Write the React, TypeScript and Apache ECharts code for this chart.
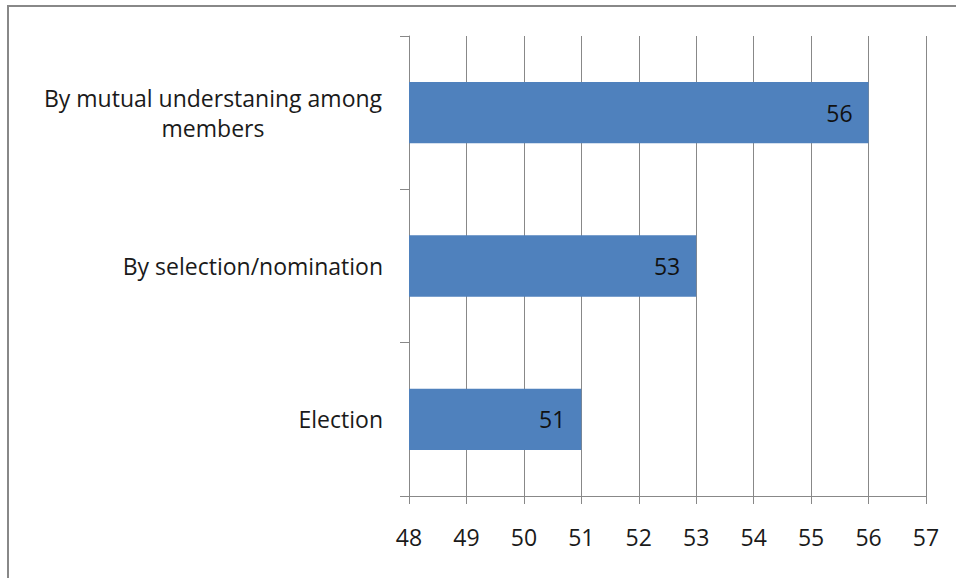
import React, { useEffect, useRef } from "react";
import * as echarts from "echarts";

const categories = ["Election", "By selection/nomination", "By mutual understaning among members"];
const values = [51, 53, 56];
const xMin = 48;
const xMax = 57;

export default function App() {
  const ref = useRef<HTMLDivElement>(null);
  useEffect(() => {
    const chart = echarts.init(ref.current!, undefined, { renderer: "svg" });
    const font = "Open Sans";
    const fs = 23;
    chart.setOption({
      animation: false,
      backgroundColor: "#ffffff",
      graphic: [
        {
          type: "rect",
          shape: { x: 8, y: 6, width: 1000, height: 1000 },
          style: { fill: "none", stroke: "#888888", lineWidth: 2 },
          silent: true,
        },
      ],
      grid: { left: 409, top: 36, right: 30, bottom: 82, containLabel: false },
      xAxis: {
        type: "value",
        min: xMin,
        max: xMax,
        interval: 1,
        axisLine: { show: true, lineStyle: { color: "#888888", width: 1 } },
        axisTick: { show: true, length: 8, lineStyle: { color: "#888888" } },
        splitLine: { show: true, lineStyle: { color: "#888888", width: 1 } },
        axisLabel: { color: "#1a1a1a", fontFamily: font, fontSize: fs, margin: 29 },
      },
      yAxis: {
        type: "category",
        data: categories,
        axisLine: { show: true, lineStyle: { color: "#888888", width: 1 } },
        axisTick: { show: true, length: 9, lineStyle: { color: "#888888" } },
        axisLabel: {
          color: "#1a1a1a",
          fontFamily: font,
          fontSize: fs,
          margin: 26,
          lineHeight: 30,
          formatter: (v: string) => {
            if (v.length > 30) {
              const idx = v.lastIndexOf(" ");
              return "{c|" + v.slice(0, idx) + "}\n{c|" + v.slice(idx + 1) + "}";
            }
            return v;
          },
          rich: {
            c: { width: 340, align: "center", fontFamily: font, fontSize: fs, color: "#1a1a1a", lineHeight: 30 },
          },
        },
      },
      series: [
        {
          type: "bar",
          data: values,
          barWidth: "40%",
          itemStyle: { color: "#4F81BD" },
          label: {
            show: true,
            position: "insideRight",
            distance: 16,
            color: "#111111",
            fontFamily: font,
            fontSize: fs,
          },
        },
      ],
    });
    return () => chart.dispose();
  }, []);
  return (
    <div
      ref={ref}
      style={{ position: "absolute", left: 0, top: 0, width: 956, height: 578 }}
    />
  );
}
